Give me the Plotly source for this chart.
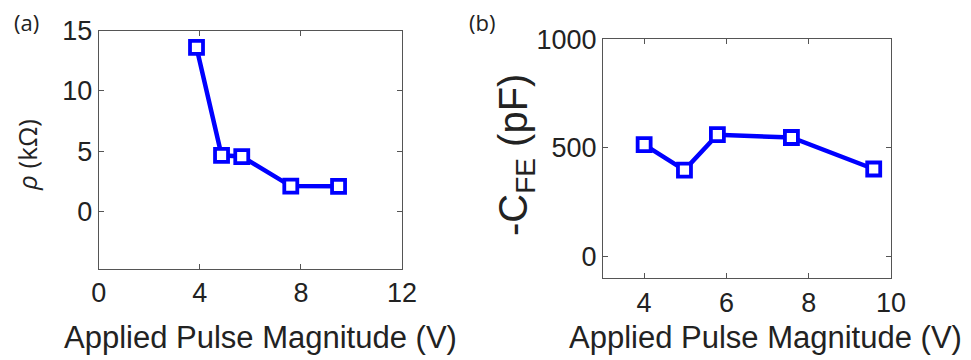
import plotly.graph_objects as go

# (a) resistivity vs applied pulse magnitude
pulse_a = [3.87, 4.86, 5.66, 7.60, 9.49]
rho_kohm = [13.6, 4.65, 4.55, 2.10, 2.08]

# (b) negative ferroelectric capacitance vs applied pulse magnitude
pulse_b = [4.0, 4.98, 5.78, 7.58, 9.58]
cfe_pf = [515, 398, 561, 548, 403]

xticks_a = [0, 4, 8, 12]
yticks_a = [0, 5, 10, 15]
xticks_b = [4, 6, 8, 10]
yticks_b = [0, 500, 1000]

W, H = 971, 360
BLUE = "#0000FF"
TXT = "#222222"
AX = "#555555"
SANS = "Liberation Sans, Arial, sans-serif"
TICK_FONT = dict(family=SANS, size=27, color=TXT)
LABEL_FONT = dict(family=SANS, size=31, color=TXT)


def px_x(p):
    return p / W


def px_y(p):
    return 1 - p / H


line_style = dict(color=BLUE, width=4.5)
marker_style = dict(symbol="square", size=13, color="white",
                    line=dict(color=BLUE, width=3.8))

fig = go.Figure()
fig.add_trace(go.Scatter(x=pulse_a, y=rho_kohm, mode="lines+markers",
                         line=line_style, marker=marker_style,
                         xaxis="x", yaxis="y", showlegend=False))
fig.add_trace(go.Scatter(x=pulse_b, y=cfe_pf, mode="lines+markers",
                         line=line_style, marker=marker_style,
                         xaxis="x2", yaxis="y2", showlegend=False))

axis_common = dict(showline=True, linecolor=AX, linewidth=1, mirror="ticks",
                   ticks="inside", ticklen=5, tickcolor=AX, tickwidth=1,
                   showgrid=False, zeroline=False, tickfont=TICK_FONT,
                   automargin=False)

fig.update_layout(
    template="none",
    width=W, height=H,
    margin=dict(l=0, r=0, t=0, b=0, pad=0),
    paper_bgcolor="white", plot_bgcolor="white",
    font=dict(family=SANS, color=TXT),
    xaxis=dict(domain=[px_x(98.7), px_x(402)], range=[0, 12],
               tickvals=xticks_a, anchor="y", **axis_common),
    yaxis=dict(domain=[px_y(268.7), px_y(30.5)], range=[-4.75, 15],
               tickvals=yticks_a, anchor="x", **axis_common),
    xaxis2=dict(domain=[px_x(603), px_x(891)], range=[3, 10],
                tickvals=xticks_b, anchor="y2", **axis_common),
    yaxis2=dict(domain=[px_y(278.3), px_y(39.3)], range=[-100, 1000],
                tickvals=yticks_b, anchor="x2", **axis_common),
)

annotations = [
    dict(text="(a)", x=px_x(26), y=px_y(22),
         font=dict(family="Open Sans, sans-serif", size=22, color=TXT)),
    dict(text="(b)", x=px_x(482), y=px_y(21.5),
         font=dict(family="Open Sans, sans-serif", size=22, color=TXT)),
    dict(text="Applied Pulse Magnitude (V)", x=px_x(260), y=px_y(337),
         font=LABEL_FONT),
    dict(text="Applied Pulse Magnitude (V)", x=px_x(765), y=px_y(337),
         font=LABEL_FONT),
    dict(text="<i>ρ</i> (kΩ)", x=px_x(27), y=px_y(155), textangle=-90,
         font=dict(family="Open Sans, sans-serif", size=26, color=TXT)),
    dict(text="-C<sub>FE</sub> (pF)", x=px_x(516), y=px_y(155), textangle=-90,
         font=dict(family=SANS, size=40, color=TXT)),
]
for a in annotations:
    a.update(xref="paper", yref="paper", xanchor="center", yanchor="middle",
             showarrow=False)
fig.update_layout(annotations=annotations)

fig.write_html("out.html")
